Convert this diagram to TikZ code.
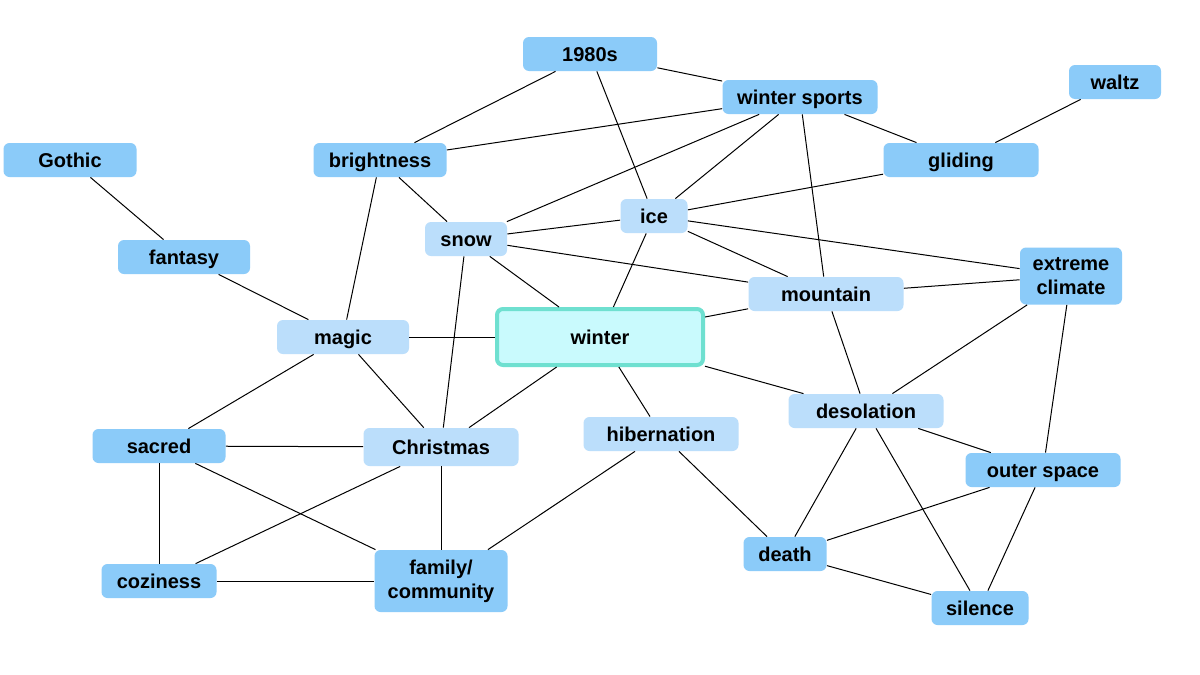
\documentclass[tikz,border=0pt]{standalone}
\usepackage{fontspec}
\setmainfont{Liberation Sans}
\definecolor{darkbox}{HTML}{8BCBF9}
\definecolor{lightbox}{HTML}{BBDEFB}
\definecolor{winterfill}{HTML}{C9FAFD}
\definecolor{winterline}{HTML}{6FE0D0}
\begin{document}
\begin{tikzpicture}[x=0.5pt,y=-0.5pt,
  box/.style={rectangle,rounded corners=3pt,inner sep=0pt,align=center,
    font=\fontsize{10}{12}\selectfont\bfseries,minimum height=17pt},
  one/.style={text height=0.9em,text depth=0.184em},
  dk/.style={box,fill=darkbox},
  lt/.style={box,fill=lightbox},
  core/.style={box,fill=winterfill,draw=winterline,line width=2pt},
  edge/.style={draw=black,line width=0.5pt}]
\useasboundingbox (0,0) rectangle (1200,675);
\fill[white] (0,0) rectangle (1200,675);
% nodes
\node[dk,one,minimum width=67pt] (y80) at (590,54) {1980s};
\node[dk,one,minimum width=77.5pt] (ws) at (800,97) {winter sports};
\node[dk,one,minimum width=46pt] (waltz) at (1115,82) {waltz};
\node[dk,one,minimum width=66.5pt] (gothic) at (70,160) {Gothic};
\node[dk,one,minimum width=66.5pt] (bright) at (380,160) {brightness};
\node[dk,one,minimum width=77.5pt] (glide) at (961,160) {gliding};
\node[lt,one,minimum width=33.5pt] (ice) at (654,216) {ice};
\node[lt,one,minimum width=41pt] (snow) at (466,239) {snow};
\node[dk,one,minimum width=66pt] (fantasy) at (184,257) {fantasy};
\node[dk,minimum width=51pt,minimum height=28.5pt] (extreme) at (1071,276) {extreme\\climate};
\node[lt,one,minimum width=77.5pt] (mount) at (826,294) {mountain};
\node[lt,one,minimum width=66pt] (magic) at (343,337) {magic};
\node[core,one,minimum width=103pt,minimum height=28pt] (winter) at (600,337) {winter};
\node[lt,one,minimum width=77.5pt] (desol) at (866,411) {desolation};
\node[dk,one,minimum width=66.5pt] (sacred) at (159,446) {sacred};
\node[lt,one,minimum width=77.5pt,minimum height=19pt] (xmas) at (441,447) {Christmas};
\node[lt,one,minimum width=77.5pt] (hiber) at (661,434) {hibernation};
\node[dk,one,minimum width=77.5pt] (outer) at (1043,470) {outer space};
\node[dk,one,minimum width=41.5pt] (death) at (785,554) {death};
\node[dk,one,minimum width=57.5pt] (cozy) at (159,581) {coziness};
\node[dk,minimum width=66.5pt,minimum height=31pt] (family) at (441,581) {family/\\community};
\node[dk,one,minimum width=48.5pt] (silence) at (980,608) {silence};
% edges
\begin{scope}[edge]
\draw (y80) -- (bright);
\draw (y80) -- (ws);
\draw (y80) -- (ice);
\draw (ws) -- (bright);
\draw (ws) -- (snow);
\draw (ws) -- (ice);
\draw (ws) -- (glide);
\draw (ws) -- (mount);
\draw (waltz) -- (glide);
\draw (glide) -- (ice);
\draw (gothic) -- (fantasy);
\draw (fantasy) -- (magic);
\draw (bright) -- (snow);
\draw (bright) -- (magic);
\draw (snow) -- (ice);
\draw (snow) -- (mount);
\draw (snow) -- (winter);
\draw (snow) -- (xmas);
\draw (ice) -- (winter);
\draw (ice) -- (mount);
\draw (ice) -- (extreme);
\draw (mount) -- (extreme);
\draw (winter) -- (mount);
\draw (magic) -- (winter);
\draw (magic) -- (sacred);
\draw (magic) -- (xmas);
\draw (winter) -- (xmas);
\draw (winter) -- (hiber);
\draw (winter) -- (desol);
\draw (mount) -- (desol);
\draw (extreme) -- (desol);
\draw (extreme) -- (outer);
\draw (desol) -- (outer);
\draw (desol) -- (death);
\draw (desol) -- (silence);
\draw (outer) -- (death);
\draw (outer) -- (silence);
\draw (death) -- (silence);
\draw (hiber) -- (death);
\draw (hiber) -- (family);
\draw (sacred) -- (xmas);
\draw (sacred) -- (cozy);
\draw (sacred) -- (family);
\draw (xmas) -- (cozy);
\draw (xmas) -- (family);
\draw (cozy) -- (family);
\end{scope}
\end{tikzpicture}
\end{document}
